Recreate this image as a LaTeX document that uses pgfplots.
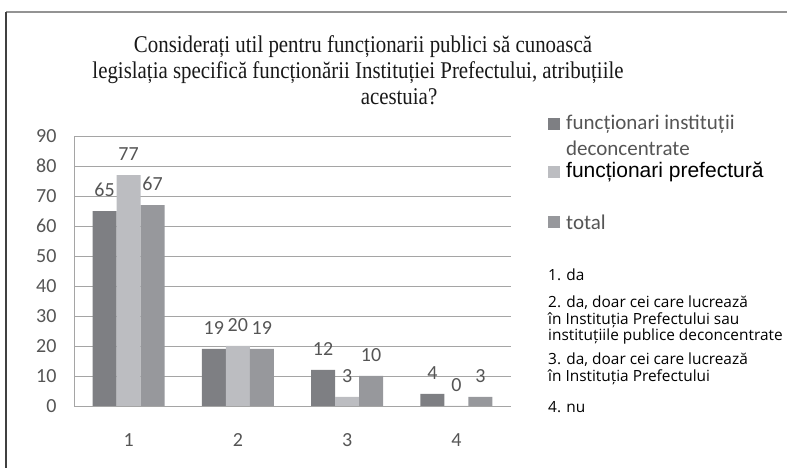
\documentclass[border=0pt]{standalone}
\usepackage{fontspec}
\setmainfont{Liberation Serif}
\newfontfamily\calibri{Carlito}
\newfontfamily\notefont{Open Sans}
\newfontfamily\arial{Liberation Sans}
\usepackage{pgfplots}
\pgfplotsset{compat=1.18}

\definecolor{sdark}{RGB}{126,127,131}
\definecolor{slight}{RGB}{188,189,193}
\definecolor{smid}{RGB}{151,152,156}
\definecolor{gridc}{RGB}{165,165,165}
\definecolor{txt}{RGB}{85,85,85}

\begin{document}
\begin{tikzpicture}[x=1pt,y=1pt]
\path[use as bounding box] (0,0) rectangle (787,468);
% outer frame (cropped on the right and bottom)
\draw[color=gray!85, line width=1.5pt] (6,456) -- (787,456);
\draw[color=black!75, line width=2pt] (6,456) -- (6,0);

% title, one node per line as in the reference
\begin{scope}[every node/.style={anchor=base, inner sep=0pt, xscale=0.87,
    font=\fontsize{24}{26}\selectfont, text=black!90}]
\node at (363,415) {Considerați util pentru funcționarii publici să cunoască};
\node at (358,389) {legislația specifică funcționării Instituției Prefectului, atribuțiile};
\node at (399,363) {acestuia?};
\end{scope}

\begin{axis}[
  at={(74pt,62pt)}, anchor=south west,
  width=437pt, height=270pt, scale only axis,
  xmin=0.5, xmax=4.5, ymin=0, ymax=90,
  ybar=0pt, bar width=24pt,
  xtick={1,2,3,4}, ytick={0,10,...,90},
  axis x line*=bottom, axis y line*=left,
  axis line style={draw=gridc, line width=0.8pt, -},
  major tick length=0pt,
  ymajorgrids, grid style={draw=gridc, line width=0.8pt},
  /pgf/number format/assume math mode=true,
  tick label style={font=\calibri\fontsize{20}{20}\selectfont, text=txt},
  yticklabel style={xshift=-14pt},
  xticklabel style={yshift=-24pt},
  nodes near coords,
  nodes near coords style={font=\calibri\fontsize{20}{20}\selectfont, text=txt,
    anchor=south, inner sep=0pt, yshift=14pt},
  ]
\addplot[fill=sdark, draw=none] coordinates {(1,65) (2,19) (3,12) (4,4)};
\addplot[fill=slight, draw=none] coordinates {(1,77) (2,20) (3,3) (4,0)};
\addplot[fill=smid, draw=none] coordinates {(1,67) (2,19) (3,10) (4,3)};
\end{axis}

% legend
\fill[sdark] (548,338) rectangle (560,350);
\node[anchor=west, inner sep=0pt, text=txt, font=\calibri\fontsize{21}{25}\selectfont] at (566,344) {funcționari instituții};
\node[anchor=west, inner sep=0pt, text=txt, font=\calibri\fontsize{21}{25}\selectfont] at (566,320) {deconcentrate};
\fill[slight] (548,290) rectangle (560,302);
\node[anchor=west, inner sep=0pt, font=\arial\fontsize{21}{25}\selectfont] at (566,296) {funcționari prefectură};
\fill[smid] (548,240) rectangle (560,252);
\node[anchor=west, inner sep=0pt, text=txt, font=\calibri\fontsize{21}{25}\selectfont] at (566,246) {total};

% notes
\begin{scope}[every node/.style={anchor=west, inner sep=0pt, font=\notefont\fontsize{15.4}{17}\selectfont}]
\node at (548,193) {1. da};
\node at (548,165) {2. da, doar cei care lucrează};
\node at (548,148) {în Instituția Prefectului sau};
\node at (548,131) {instituțiile publice deconcentrate};
\node at (548,108) {3. da, doar cei care lucrează};
\node at (548,91) {în Instituția Prefectului};
\node at (548,61) {4. nu};
\end{scope}
\end{tikzpicture}
\end{document}
